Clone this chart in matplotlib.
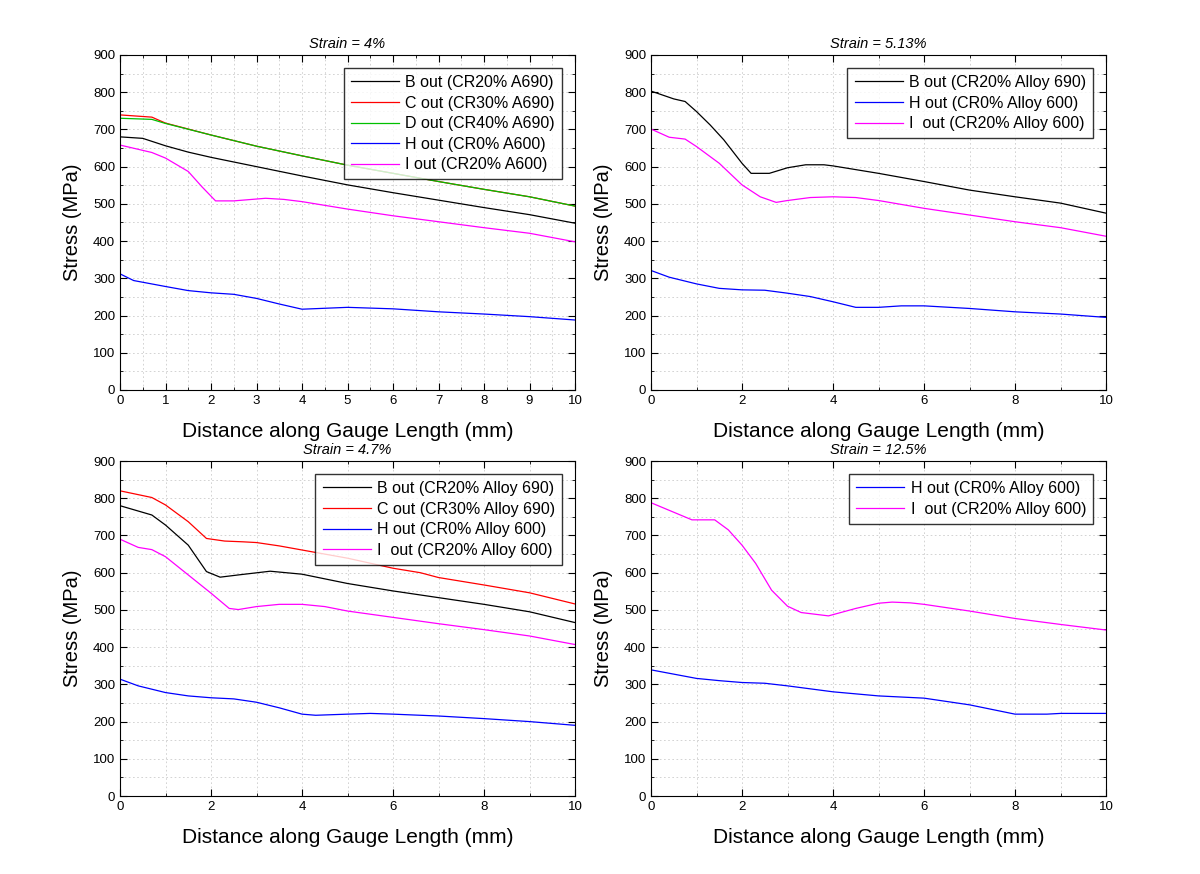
import matplotlib
matplotlib.use("Agg")
import matplotlib.pyplot as plt
from matplotlib.ticker import MultipleLocator

plt.rcParams['font.family'] = ['Liberation Sans', 'DejaVu Sans']

# Strain = 4%
x_a_B = [0, 0.5, 1, 1.5, 2, 3, 4, 5, 6, 7, 8, 9, 10]
y_a_B = [680, 676, 656, 639, 625, 600, 575, 551, 530, 510, 490, 471, 448]
x_a_C = [0, 0.7, 1, 2, 3, 4, 5, 6, 7, 8, 9, 10]
y_a_C = [739, 733, 717, 685, 655, 629, 604, 582, 560, 539, 519, 494]
x_a_D = [0, 0.7, 1, 2, 3, 4, 5, 6, 7, 8, 9, 10]
y_a_D = [730, 727, 716, 685, 655, 629, 604, 582, 560, 539, 519, 494]
x_a_H = [0, 0.3, 1, 1.5, 2, 2.5, 3, 3.5, 4, 5, 6, 7, 8, 9, 10]
y_a_H = [312, 294, 278, 267, 261, 257, 246, 231, 217, 222, 218, 210, 204, 197, 188]
x_a_I = [0, 0.7, 1, 1.5, 1.8, 2.1, 2.5, 3.2, 3.6, 4, 5, 6, 7, 8, 9, 10]
y_a_I = [658, 638, 623, 587, 546, 508, 508, 515, 512, 506, 486, 468, 452, 436, 421, 398]

# Strain = 5.13%
x_b_B = [0, 0.5, 0.75, 1, 1.3, 1.6, 2, 2.2, 2.6, 3, 3.4, 3.8, 4, 5, 6, 7, 8, 9, 10]
y_b_B = [803, 782, 775, 748, 712, 672, 609, 582, 582, 597, 605, 605, 602, 582, 560, 537, 519, 502, 475]
x_b_H = [0, 0.4, 1, 1.5, 2, 2.5, 3, 3.5, 4, 4.5, 5, 5.5, 6, 7, 8, 9, 10]
y_b_H = [321, 303, 285, 273, 269, 268, 260, 251, 237, 222, 222, 226, 226, 219, 210, 204, 195]
x_b_I = [0, 0.4, 0.75, 1, 1.5, 2, 2.4, 2.75, 3, 3.5, 4, 4.5, 5, 6, 7, 8, 9, 10]
y_b_I = [701, 679, 674, 654, 609, 551, 519, 504, 509, 517, 519, 517, 509, 488, 470, 452, 436, 413]

# Strain = 4.7%
x_c_B = [0, 0.7, 1, 1.5, 1.9, 2.2, 2.6, 3.3, 4, 5, 6, 7, 8, 9, 10]
y_c_B = [780, 755, 728, 674, 603, 588, 594, 604, 596, 571, 551, 533, 515, 495, 466]
x_c_C = [0, 0.7, 1, 1.5, 1.9, 2.3, 2.7, 3, 3.5, 4, 5, 6, 6.6, 7, 8, 9, 10]
y_c_C = [820, 802, 782, 737, 692, 685, 683, 681, 672, 661, 639, 612, 600, 587, 567, 546, 516]
x_c_H = [0, 0.4, 1, 1.5, 2, 2.5, 3, 3.5, 4, 4.3, 5, 5.5, 6, 7, 8, 9, 10]
y_c_H = [314, 296, 278, 269, 264, 261, 252, 237, 220, 217, 220, 222, 220, 215, 208, 200, 190]
x_c_I = [0, 0.4, 0.7, 1, 1.5, 2, 2.4, 2.6, 3, 3.5, 4, 4.5, 5, 6, 7, 8, 9, 10]
y_c_I = [690, 668, 662, 643, 594, 545, 504, 501, 509, 515, 515, 509, 497, 480, 463, 447, 430, 407]

# Strain = 12.5%
x_d_H = [0, 1, 1.5, 2, 2.5, 3, 4, 5, 6, 7, 8, 8.7, 9, 10]
y_d_H = [339, 316, 310, 305, 303, 296, 280, 269, 263, 245, 220, 220, 222, 222]
x_d_I = [0, 0.9, 1.4, 1.7, 2, 2.3, 2.65, 3, 3.3, 3.9, 4.5, 5, 5.3, 5.7, 6, 7, 8, 9, 10]
y_d_I = [788, 742, 742, 715, 674, 625, 553, 510, 493, 484, 504, 518, 521, 519, 515, 497, 477, 461, 446]

panels = [
    ("Strain = 4%", [0.1, 0.5538, 0.3792, 0.3833], 1, 0.5, [
        (x_a_B, y_a_B, 'black', 'B out (CR20% A690)'),
        (x_a_C, y_a_C, 'red', 'C out (CR30% A690)'),
        (x_a_D, y_a_D, '#00c000', 'D out (CR40% A690)'),
        (x_a_H, y_a_H, 'blue', 'H out (CR0% A600)'),
        (x_a_I, y_a_I, 'magenta', 'I out (CR20% A600)')]),
    ("Strain = 5.13%", [0.5425, 0.5538, 0.3792, 0.3833], 2, 1, [
        (x_b_B, y_b_B, 'black', 'B out (CR20% Alloy 690)'),
        (x_b_H, y_b_H, 'blue', 'H out (CR0% Alloy 600)'),
        (x_b_I, y_b_I, 'magenta', 'I  out (CR20% Alloy 600)')]),
    ("Strain = 4.7%", [0.1, 0.0892, 0.3792, 0.3833], 2, 1, [
        (x_c_B, y_c_B, 'black', 'B out (CR20% Alloy 690)'),
        (x_c_C, y_c_C, 'red', 'C out (CR30% Alloy 690)'),
        (x_c_H, y_c_H, 'blue', 'H out (CR0% Alloy 600)'),
        (x_c_I, y_c_I, 'magenta', 'I  out (CR20% Alloy 600)')]),
    ("Strain = 12.5%", [0.5425, 0.0892, 0.3792, 0.3833], 2, 1, [
        (x_d_H, y_d_H, 'blue', 'H out (CR0% Alloy 600)'),
        (x_d_I, y_d_I, 'magenta', 'I  out (CR20% Alloy 600)')]),
]

fig = plt.figure(figsize=(12, 8.74), dpi=100)

for title, rect, xmaj, xmin, series in panels:
    ax = fig.add_axes(rect)
    for xs, ys, c, lab in series:
        ax.plot(xs, ys, color=c, lw=0.9, label=lab)
    ax.set_xlim(0, 10)
    ax.set_ylim(0, 900)
    ax.xaxis.set_major_locator(MultipleLocator(xmaj))
    ax.xaxis.set_minor_locator(MultipleLocator(xmin))
    ax.yaxis.set_major_locator(MultipleLocator(100))
    ax.yaxis.set_minor_locator(MultipleLocator(50))
    ax.tick_params(which='both', direction='in', top=True, right=True, labelsize=9.5)
    ax.tick_params(which='major', length=5)
    ax.tick_params(which='minor', length=2.5)
    ax.grid(which='both', color='#cccccc', linestyle=(0, (2, 3)), linewidth=0.6)
    ax.set_axisbelow(True)
    ax.set_title(title, fontsize=10.5, style='italic', pad=5)
    ax.set_xlabel('Distance along Gauge Length (mm)', fontsize=15, labelpad=11)
    ax.set_ylabel('Stress (MPa)', fontsize=14.5, labelpad=8)
    leg = ax.legend(loc='upper right', fontsize=11.5, frameon=True, fancybox=False,
                    edgecolor='black', handlelength=3.0, borderpad=0.45,
                    labelspacing=0.35, handletextpad=0.4, borderaxespad=0.8)
    leg.get_frame().set_linewidth(1.0)

fig.savefig('out.png', dpi=100)
